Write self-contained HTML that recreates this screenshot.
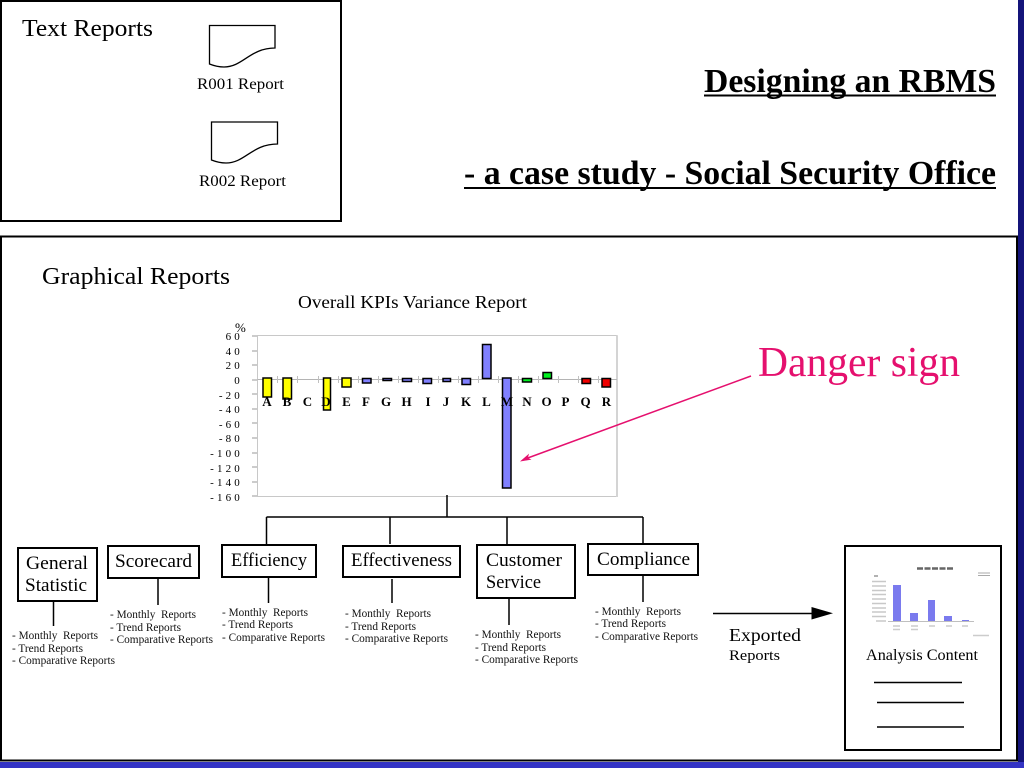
<!DOCTYPE html>
<html><head><meta charset="utf-8"><style>
html,body{margin:0;padding:0;background:#fff}
svg{display:block}
text{font-family:"Liberation Serif",serif;fill:#000;white-space:pre}
.s{font-size:11.500px;fill:#111}
.m{font-size:18.500px}
.l{font-size:13px;font-weight:bold;text-anchor:middle}
.y{font-size:11px;text-anchor:end;letter-spacing:.2px}
</style></head><body>
<svg width="1024" height="768" viewBox="0 0 1024 768" xmlns="http://www.w3.org/2000/svg">
<rect width="1024" height="768" fill="#fff"/>
<rect x="1018" y="0" width="6" height="768" fill="#14147a"/>
<rect x="0" y="762" width="1024" height="6" fill="#3333c4"/>
<rect x="1" y="1" width="340" height="220" fill="#fff" stroke="#000" stroke-width="2"/>
<rect x="1" y="236.500" width="1016" height="524" fill="#fff" stroke="#000" stroke-width="2"/>

<text x="22" y="36" font-size="24" textLength="131" lengthAdjust="spacingAndGlyphs">Text Reports</text>
<path d="M209.500 25.500H275V48C250 48 243 67 224 67C217 67 212 65 209.500 64Z" fill="#fff" stroke="#000" stroke-width="1.300"/>
<text x="197" y="89" font-size="16" textLength="87" lengthAdjust="spacingAndGlyphs">R001 Report</text>
<path d="M211.500 122H277.500V144C252 144 245 163 226 163C219 163 214 161 211.500 160Z" fill="#fff" stroke="#000" stroke-width="1.300"/>
<text x="199" y="186" font-size="16" textLength="87" lengthAdjust="spacingAndGlyphs">R002 Report</text>

<text x="704" y="92" font-size="33.500" font-weight="bold" textLength="292" lengthAdjust="spacingAndGlyphs">Designing an RBMS</text>
<rect x="704" y="94.500" width="292" height="2" fill="#000"/>
<text x="464" y="184" font-size="33.500" font-weight="bold" textLength="532" lengthAdjust="spacingAndGlyphs">- a case study - Social Security Office</text>
<rect x="464" y="187" width="532" height="2" fill="#000"/>

<text x="42" y="284" font-size="24" textLength="188" lengthAdjust="spacingAndGlyphs">Graphical Reports</text>
<text x="298" y="308" font-size="18" textLength="229" lengthAdjust="spacingAndGlyphs">Overall KPIs Variance Report</text>

<!-- chart -->
<path d="M257.500 336V496.500H617V335.500H257" fill="#fff" stroke="#c8c8c8" stroke-width="1"/>
<path d="M617 335.500V497" stroke="#d4d4d4" stroke-width="2" fill="none"/>
<path d="M257.500 379.500H617" stroke="#b4b4b4" fill="none"/>
<path d="M257 336h-5M257 351h-5M257 365h-5M257 380h-5M257 394h-5M257 409h-5M257 423h-5M257 438h-5M257 453h-5M257 467h-5M257 482h-5M257 496h-5" stroke="#999" fill="none"/>
<path d="M277.500 376v7M297.500 376v7M318.500 376v7M338.500 376v7M358.500 376v7M378.500 376v7M398.500 376v7M418.500 376v7M438.500 376v7M458.500 376v7M478.500 376v7M498.500 376v7M518.500 376v7M538.500 376v7M558.500 376v7M578.500 376v7M598.500 376v7" stroke="#c0c0c0" fill="none"/>
<g stroke="#000" stroke-width="1.500">
<g fill="#ffff00">
<rect x="263" y="378" width="8.500" height="19"/>
<rect x="283" y="378" width="8.500" height="21"/>
<rect x="323.500" y="378" width="7" height="32"/>
<rect x="342" y="378" width="9" height="9"/>
</g>
<g fill="#8080ff">
<rect x="362.500" y="378.500" width="8.500" height="4.500"/>
<rect x="383" y="378.500" width="8.500" height="2"/>
<rect x="402.500" y="378.500" width="9" height="3"/>
<rect x="423" y="378.500" width="8.500" height="5"/>
<rect x="443" y="378.500" width="7.500" height="3"/>
<rect x="462" y="378.500" width="8.500" height="6"/>
<rect x="482.500" y="344.500" width="8.500" height="34"/>
<rect x="502.500" y="378" width="8.500" height="110"/>
</g>
<g fill="#00f020">
<rect x="522.500" y="378.500" width="9" height="3.500"/>
<rect x="543" y="372.500" width="8.500" height="6"/>
</g>
<g fill="#f00000">
<rect x="582" y="378.500" width="8.500" height="5"/>
<rect x="602" y="378.500" width="8.500" height="8.500"/>
</g>
</g>
<text x="235" y="332" font-size="13">%</text>
<text class="y" x="240" y="340">6 0</text>
<text class="y" x="240" y="355">4 0</text>
<text class="y" x="240" y="369">2 0</text>
<text class="y" x="240" y="384">0</text>
<text class="y" x="240" y="399">- 2 0</text>
<text class="y" x="240" y="413">- 4 0</text>
<text class="y" x="240" y="428">- 6 0</text>
<text class="y" x="240" y="442">- 8 0</text>
<text class="y" x="240" y="457">- 1 0 0</text>
<text class="y" x="240" y="472">- 1 2 0</text>
<text class="y" x="240" y="486">- 1 4 0</text>
<text class="y" x="240" y="501">- 1 6 0</text>
<text class="l" x="267" y="406">A</text><text class="l" x="287" y="406">B</text><text class="l" x="307.500" y="406">C</text><text class="l" x="326" y="406">D</text><text class="l" x="346.500" y="406">E</text><text class="l" x="366" y="406">F</text><text class="l" x="386" y="406">G</text><text class="l" x="406.500" y="406">H</text><text class="l" x="428" y="406">I</text><text class="l" x="446" y="406">J</text><text class="l" x="466" y="406">K</text><text class="l" x="486.500" y="406">L</text><text class="l" x="507" y="406">M</text><text class="l" x="527" y="406">N</text><text class="l" x="546.500" y="406">O</text><text class="l" x="565.500" y="406">P</text><text class="l" x="585.500" y="406">Q</text><text class="l" x="606.500" y="406">R</text>

<!-- danger -->
<text x="758" y="376" font-size="42" style="fill:#e5106e" textLength="202" lengthAdjust="spacingAndGlyphs">Danger sign</text>
<path d="M751 376L525 459" stroke="#e5106e" stroke-width="1.500" fill="none"/>
<path d="M521 461L528.500 454.500L527.500 458L530.500 459.500Z" fill="#e5106e" stroke="#e5106e" stroke-width=".6"/>

<!-- connectors -->
<g stroke="#000" stroke-width="1.500" fill="none">
<path d="M447 495V517M266.500 517H643M266.500 517V544M390 517V544M507 517V545M643 517V544"/>
<path d="M53.500 602V626M158 579V605M268.500 578V603M392 579V603M509 599V625M643 576V602"/>
<path d="M713 613.500H812"/>
</g>
<path d="M811.500 607L833 613.300L811.500 619.500Z" fill="#000"/>

<!-- boxes -->
<g fill="#fff" stroke="#000" stroke-width="2">
<rect x="18" y="548" width="79" height="53"/>
<rect x="108" y="546" width="91" height="32"/>
<rect x="222" y="545" width="94" height="32"/>
<rect x="343" y="546" width="117" height="31"/>
<rect x="477" y="545" width="98" height="53"/>
<rect x="588" y="544" width="110" height="31"/>
<rect x="845" y="546" width="156" height="204"/>
</g>
<text class="m" x="26" y="569" textLength="62" lengthAdjust="spacingAndGlyphs">General</text>
<text class="m" x="25" y="591" textLength="62" lengthAdjust="spacingAndGlyphs">Statistic</text>
<text class="m" x="115" y="567" textLength="77" lengthAdjust="spacingAndGlyphs">Scorecard</text>
<text class="m" x="231" y="566" textLength="76" lengthAdjust="spacingAndGlyphs">Efficiency</text>
<text class="m" x="351" y="566" textLength="101" lengthAdjust="spacingAndGlyphs">Effectiveness</text>
<text class="m" x="486" y="566" textLength="76" lengthAdjust="spacingAndGlyphs">Customer</text>
<text class="m" x="486" y="588" textLength="55" lengthAdjust="spacingAndGlyphs">Service</text>
<text class="m" x="597" y="565" textLength="93" lengthAdjust="spacingAndGlyphs">Compliance</text>

<text class="s" x="12" y="639" textLength="86" lengthAdjust="spacingAndGlyphs">- Monthly  Reports</text>
<text class="s" x="12" y="652" textLength="71" lengthAdjust="spacingAndGlyphs">- Trend Reports</text>
<text class="s" x="12" y="664" textLength="103" lengthAdjust="spacingAndGlyphs">- Comparative Reports</text>
<text class="s" x="110" y="618" textLength="86" lengthAdjust="spacingAndGlyphs">- Monthly  Reports</text>
<text class="s" x="110" y="631" textLength="71" lengthAdjust="spacingAndGlyphs">- Trend Reports</text>
<text class="s" x="110" y="643" textLength="103" lengthAdjust="spacingAndGlyphs">- Comparative Reports</text>
<text class="s" x="222" y="616" textLength="86" lengthAdjust="spacingAndGlyphs">- Monthly  Reports</text>
<text class="s" x="222" y="628" textLength="71" lengthAdjust="spacingAndGlyphs">- Trend Reports</text>
<text class="s" x="222" y="641" textLength="103" lengthAdjust="spacingAndGlyphs">- Comparative Reports</text>
<text class="s" x="345" y="617" textLength="86" lengthAdjust="spacingAndGlyphs">- Monthly  Reports</text>
<text class="s" x="345" y="630" textLength="71" lengthAdjust="spacingAndGlyphs">- Trend Reports</text>
<text class="s" x="345" y="642" textLength="103" lengthAdjust="spacingAndGlyphs">- Comparative Reports</text>
<text class="s" x="475" y="638" textLength="86" lengthAdjust="spacingAndGlyphs">- Monthly  Reports</text>
<text class="s" x="475" y="651" textLength="71" lengthAdjust="spacingAndGlyphs">- Trend Reports</text>
<text class="s" x="475" y="663" textLength="103" lengthAdjust="spacingAndGlyphs">- Comparative Reports</text>
<text class="s" x="595" y="615" textLength="86" lengthAdjust="spacingAndGlyphs">- Monthly  Reports</text>
<text class="s" x="595" y="627" textLength="71" lengthAdjust="spacingAndGlyphs">- Trend Reports</text>
<text class="s" x="595" y="640" textLength="103" lengthAdjust="spacingAndGlyphs">- Comparative Reports</text>

<text x="729" y="641" font-size="18" textLength="72" lengthAdjust="spacingAndGlyphs">Exported</text>
<text x="729" y="660" font-size="15" textLength="51" lengthAdjust="spacingAndGlyphs">Reports</text>

<!-- mini chart -->
<g fill="#7a7aee">
<rect x="893" y="585" width="8" height="36"/>
<rect x="910" y="613" width="8" height="8"/>
<rect x="928" y="600" width="7" height="21"/>
<rect x="944" y="616" width="8" height="5"/>
<rect x="962" y="620" width="7" height="1"/>
</g>
<path d="M888 621.500H974" stroke="#aaa" stroke-width=".8" fill="none"/>
<path d="M872 581.500h14M872 586h14M872 590.500h14M872 594.500h14M872 599h14M872 603.500h14M872 608h14M872 612h14M872 616.500h14M876 621h10" stroke="#c8c8c8" stroke-width="1.500" fill="none"/>
<path d="M917 568.500h36" stroke="#666" stroke-width="2.500" stroke-dasharray="6 1.500" fill="none"/>
<path d="M978 573h12M978 575.500h12" stroke="#aaa" stroke-width="1" fill="none"/>
<path d="M874 576h4" stroke="#999" stroke-width="1.500" fill="none"/>
<path d="M893 626h7M893 629.500h7M911 626h7M911 629.500h7M929 626h6M946 626h6M962 626h6M973 635.500h16" stroke="#ccc" stroke-width="1.500" fill="none"/>

<text x="866" y="660" font-size="16" textLength="112" lengthAdjust="spacingAndGlyphs">Analysis Content</text>
<path d="M874 682.500H962M877 702.500H964M877 727H964" stroke="#000" stroke-width="1.500" fill="none"/>
</svg>
</body></html>
